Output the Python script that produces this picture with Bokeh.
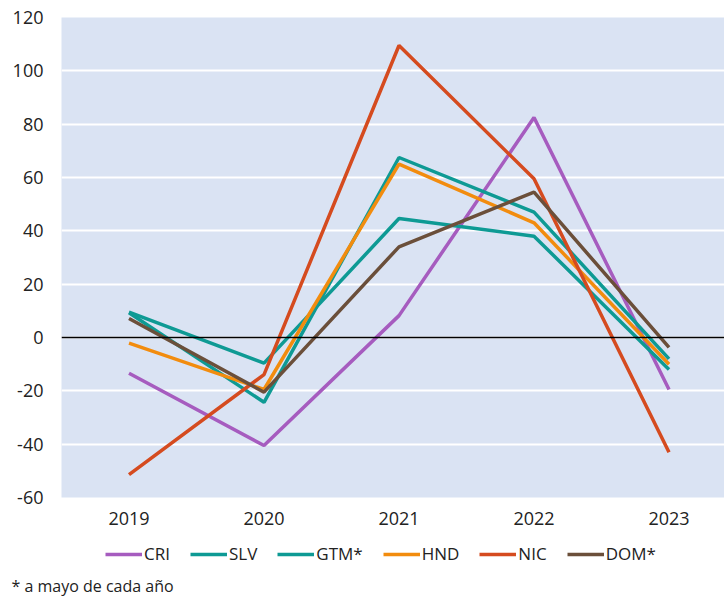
from bokeh.plotting import figure
from bokeh.layouts import column
from bokeh.models import Range1d, FixedTicker, Legend, LegendItem, Span, Label
from bokeh.embed import file_html
from bokeh.resources import INLINE

years = ["2019", "2020", "2021", "2022", "2023"]
cri = [-13.4, -40.5, 8.2, 82.5, -19.5]
slv = [9.5, -9.6, 44.6, 38.0, -12.0]
gtm = [9.3, -24.3, 67.5, 47.0, -8.0]
hnd = [-2.1, -19.5, 65.0, 43.0, -10.0]
nic = [-51.4, -13.9, 109.5, 59.5, -43.0]
dom = [7.1, -20.5, 34.0, 54.5, -3.7]
names = ["CRI", "SLV", "GTM*", "HND", "NIC", "DOM*"]
series = [cri, slv, gtm, hnd, nic, dom]
colors = ["#a65cbf", "#0e9a94", "#0e9a94", "#f28c0e", "#d54b1f", "#6b4f3a"]
yticks = [-60, -40, -20, 0, 20, 40, 60, 80, 100, 120]
note = "* a mayo de cada año"

FONT = "Open Sans"
TXT = "#222222"
xs = list(range(len(years)))

# main chart
p = figure(width=724, height=537, output_backend="svg", toolbar_location=None,
           x_range=Range1d(-0.5, 4.411), y_range=Range1d(-60, 120),
           min_border_left=61, min_border_right=0, min_border_top=17, min_border_bottom=40)
p.frame_align = False
p.background_fill_color = "#dae3f3"
p.border_fill_color = "white"
p.outline_line_color = None

p.xgrid.grid_line_color = None
p.ygrid.grid_line_color = "white"
p.ygrid.grid_line_width = 2
p.ygrid.ticker = FixedTicker(ticks=yticks)

p.yaxis.ticker = FixedTicker(ticks=yticks)
p.yaxis.major_label_overrides = {t: str(t) for t in yticks}
p.xaxis.ticker = FixedTicker(ticks=xs)
p.xaxis.major_label_overrides = {i: y for i, y in enumerate(years)}
for ax in (p.xaxis, p.yaxis):
    ax.axis_line_color = None
    ax.major_tick_line_color = None
    ax.minor_tick_line_color = None
    ax.major_tick_out = 0
    ax.major_tick_in = 0
    ax.major_label_text_font = FONT
    ax.major_label_text_font_size = "18px"
    ax.major_label_text_color = TXT
p.yaxis.major_label_standoff = 18
p.xaxis.major_label_standoff = 14

p.add_layout(Span(location=0, dimension="width", line_color="black", line_width=1.5))

for vals, c in zip(series, colors):
    p.line(xs, vals, line_color=c, line_width=3.5)

# legend + footnote strip
q = figure(width=724, height=59, output_backend="svg", toolbar_location=None,
           x_range=Range1d(-0.5, 4.411), y_range=Range1d(1000, 1001),
           x_axis_type=None, y_axis_type=None,
           min_border_left=0, min_border_right=0, min_border_top=0, min_border_bottom=0)
q.frame_align = False
q.outline_line_color = None
q.background_fill_color = "white"
q.xgrid.visible = False
q.ygrid.visible = False

items = []
for name, vals, c in zip(names, series, colors):
    r = q.line(xs, vals, line_color=c, line_width=3.5)
    items.append(LegendItem(label=name, renderers=[r]))

legend = Legend(items=items, orientation="horizontal", location=(105, 31),
                glyph_width=37, glyph_height=14, label_standoff=2, spacing=20,
                label_text_font=FONT, label_text_font_size="17px", label_text_color=TXT,
                background_fill_alpha=0, border_line_color=None, padding=0, margin=0)
q.add_layout(legend, "center")

q.add_layout(Label(x=11, y=11, x_units="screen", y_units="screen", text=note,
                   text_baseline="middle", text_font=FONT, text_font_size="16px",
                   text_color=TXT))

open("out.html", "w").write(file_html(column(p, q, spacing=0), INLINE))
